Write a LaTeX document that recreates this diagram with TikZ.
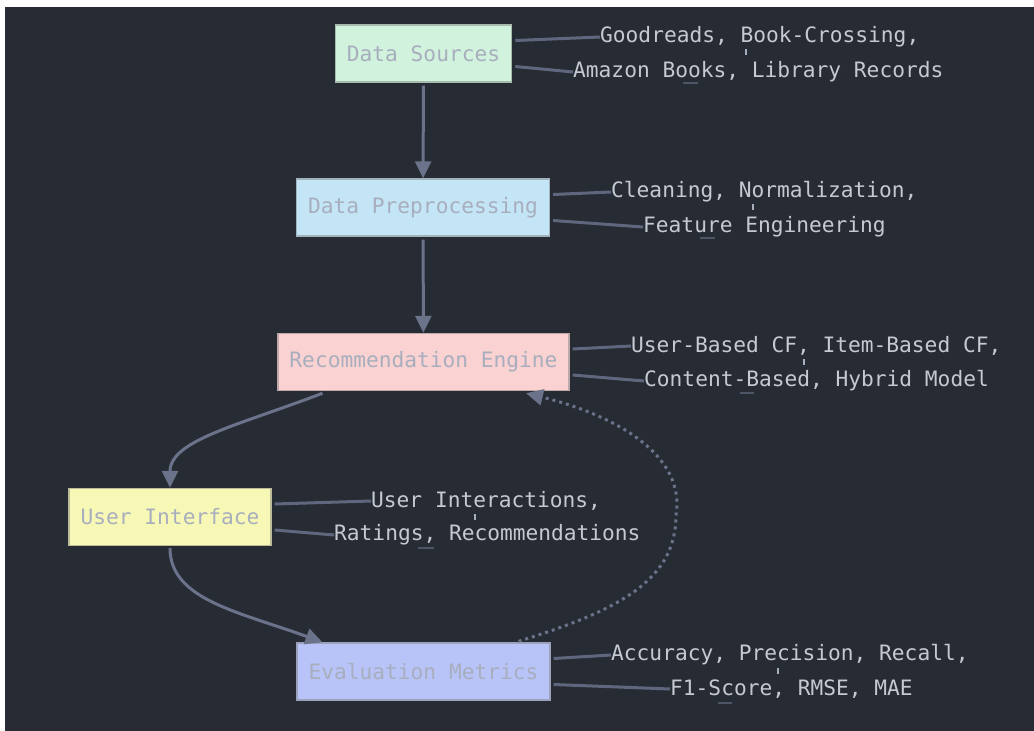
\documentclass[tikz,border=0pt]{standalone}
\usepackage{fontspec}
\setmonofont{DejaVu Sans Mono}
\usetikzlibrary{arrows.meta}
\definecolor{bg}{HTML}{272B34}
\definecolor{edge}{HTML}{6A7389}
\definecolor{leadc}{HTML}{5E677D}
\definecolor{notetext}{HTML}{C4C9D2}
\definecolor{boxtext}{HTML}{A8AEBE}
\definecolor{dsfill}{HTML}{D1F2DC}
\definecolor{dpfill}{HTML}{C3E5F5}
\definecolor{refill}{HTML}{FAD2D2}
\definecolor{uifill}{HTML}{F8F8B6}
\definecolor{emfill}{HTML}{B8C4F8}

\begin{document}
\begin{tikzpicture}[x=1pt,y=-1pt,>={Triangle[width=16pt,length=17pt]}]
 \tikzstyle{stage} = [draw, line width=1.4pt, minimum height=57pt, inner xsep=11.5pt,
   text=boxtext, font=\ttfamily\fontsize{21.2}{26}\selectfont]
 \tikzstyle{note} = [anchor=west, inner sep=0pt, text=notetext,
   font=\ttfamily\fontsize{21.2}{26}\selectfont]
 \tikzstyle{flow} = [->, line width=3pt, draw=edge]
 \tikzstyle{lead} = [line width=3pt, draw=leadc]
 \tikzstyle{tick} = [line width=1.5pt, draw=boxtext]
 \tikzstyle{under} = [line width=1.5pt, draw=leadc!70!bg]
 \newcommand{\dy}{13pt}

% Frame
 \useasboundingbox (0,0) rectangle (1034,731);
 \fill[bg] (5,7) rectangle (1034,731);

% Stages
 \node[stage, fill=dsfill, draw=dsfill!50!gray] (ds) at (423.5,53.5) {Data Sources};
 \node[stage, fill=dpfill, draw=dpfill!50!gray] (dp) at (423,207.5) {Data Preprocessing};
 \node[stage, fill=refill, draw=refill!50!gray] (re) at (423.5,362) {Recommendation Engine};
 \node[stage, fill=uifill, draw=uifill!50!gray] (ui) at (170,517) {User Interface};
 \node[stage, fill=emfill, draw=emfill!50!gray] (em) at (423.5,671.5) {Evaluation Metrics};

% Notes
 \node[note] (ds1) at (600,37) {Goodreads, Book-Crossing,};
 \node[note] (ds2) at (573,72) {Amazon Books, Library Records};
 \node[note] (dp1) at (611,192) {Cleaning, Normalization,};
 \node[note] (dp2) at (643,227) {Feature Engineering};
 \node[note] (re1) at (631,346) {User-Based CF, Item-Based CF,};
 \node[note] (re2) at (644,381) {Content-Based, Hybrid Model};
 \node[note] (ui1) at (371,501) {User Interactions,};
 \node[note] (ui2) at (334,535) {Ratings, Recommendations};
 \node[note] (em1) at (611,655) {Accuracy, Precision, Recall,};
 \node[note] (em2) at (670,689) {F1-Score, RMSE, MAE};

% Leads to the notes
 \foreach \s in {ds,dp,re,ui,em} {
   \draw[lead] ([xshift=3pt,yshift=\dy]\s.east) -- (\s1.west);
   \draw[lead] ([xshift=3pt,yshift=-\dy]\s.east) -- (\s2.west);
 }

% Small marks left between the note lines
 \draw[tick] (746,49) -- (746,55);
 \draw[tick] (753,204) -- (753,210);
 \draw[tick] (804,359) -- (804,365);
 \draw[tick] (475,514) -- (475,520);
 \draw[tick] (778,668) -- (778,674);
 \draw[under] (683,83) -- (698,83);
 \draw[under] (700,238) -- (715,238);
 \draw[under] (740,393) -- (754,393);
 \draw[under] (418,548) -- (434,548);
 \draw[under] (718,703) -- (732,703);

% Flow
 \draw[flow, shorten <=3pt] (ds) -- (dp);
 \draw[flow, shorten <=3pt] (dp) -- (re);
 \draw[flow] ([xshift=-101pt,yshift=-2pt]re.south) .. controls (240,425) and (170,440) .. (ui.north);
 \draw[flow] ([yshift=-2pt]ui.south) .. controls (170,600) and (240,612) .. ([xshift=-101pt]em.north);

% Feedback (dotted)
 \draw[flow, dash pattern=on 3pt off 4pt] ([xshift=95pt,yshift=1pt]em.north)
   .. controls (620,610) and (676,580) .. (676,515)
   .. controls (686,455) and (615,415) .. ([xshift=102.5pt,yshift=-2pt]re.south);
\end{tikzpicture}
\end{document}
